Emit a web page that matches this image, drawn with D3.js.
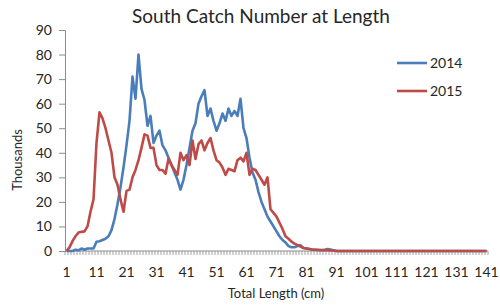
<!DOCTYPE html>
<html>
<head>
<meta charset="utf-8">
<script src="https://cdn.jsdelivr.net/npm/d3@7"></script>
<style>
  body { margin: 0; background: #fff; }
  svg text { font-family: Lato, "Liberation Sans", sans-serif; fill: #262626; }
</style>
</head>
<body>
<div id="chart"></div>
<script>
// total length classes (cm), 1..141
const lengths = d3.range(1, 142);
const xTickLabels = [1, 11, 21, 31, 41, 51, 61, 71, 81, 91, 101, 111, 121, 131, 141];
const yTicks = [0, 10, 20, 30, 40, 50, 60, 70, 80, 90];

// catch in thousands
const catch2014 = [
  0, 0, 0, 0.5, 0.3, 1, 0.5, 1, 1, 1,
  3.8, 4, 4.5, 5, 6, 8.5, 13, 19, 26, 34,
  43, 53, 71, 62, 80, 66, 61.5, 51, 55, 44,
  47, 49, 43, 41, 38, 35, 32, 29, 25, 29,
  35, 42, 49, 52, 60, 63, 65.5, 55, 58, 53,
  49, 52, 56, 53, 58, 55, 57, 55, 62, 50,
  46, 38, 32, 29, 24, 20, 17, 14, 12, 10,
  8, 6, 4.5, 3.5, 2, 1.5, 1.5, 2, 2.4, 1.2,
  1, 0.8, 0.5, 0.5, 0.3, 0.3, 0.5, 0.8, 0.6, 0.3,
  0, 0, 0, 0, 0, 0, 0, 0, 0, 0,
  0, 0, 0, 0, 0, 0, 0, 0, 0, 0,
  0, 0, 0, 0, 0, 0, 0, 0, 0, 0,
  0, 0, 0, 0, 0, 0, 0, 0, 0, 0,
  0, 0, 0, 0, 0, 0, 0, 0, 0, 0,
  0
];
const catch2015 = [
  0, 1.5, 4, 6, 7.5, 7.8, 8, 10, 16, 21,
  44, 56.5, 54, 50, 45, 40, 30, 27, 21, 16,
  24.5, 25, 30, 33, 37, 42, 47.5, 47, 42, 42,
  35, 33, 33, 31.5, 37.5, 35, 33, 31, 40, 37,
  39, 35, 45, 37.5, 43.5, 45, 41, 44, 46, 41,
  37, 36, 34, 31, 33.5, 33, 32.5, 37, 38, 36.5,
  40, 31, 33.5, 33, 31, 29, 27, 30, 17, 15.5,
  14, 11.5, 9, 6, 5, 3.8, 3, 2.4, 1.8, 1.2,
  1, 0.8, 0.6, 0.5, 0.5, 0.4, 0.3, 0.3, 0.2, 0.2,
  0, 0, 0, 0, 0, 0, 0, 0, 0, 0,
  0, 0, 0, 0, 0, 0, 0, 0, 0, 0,
  0, 0, 0, 0, 0, 0, 0, 0, 0, 0,
  0, 0, 0, 0, 0, 0, 0, 0, 0, 0,
  0, 0, 0, 0, 0, 0, 0, 0, 0, 0,
  0
];

const seriesNames = ["2014", "2015"];
const seriesColors = ["#4a7ebb", "#be4b48"];

const W = 500, H = 307;
const plot = {left: 65, right: 488, top: 30, bottom: 251};

const svg = d3.select("#chart").append("svg")
  .attr("width", W)
  .attr("height", H);

const x = d3.scaleBand()
  .domain(lengths)
  .range([plot.left, plot.right])
  .padding(0);

const y = d3.scaleLinear()
  .domain([0, 90])
  .range([plot.bottom, plot.top]);

// title
svg.append("text")
  .attr("x", 261)
  .attr("y", 23)
  .attr("text-anchor", "middle")
  .style("font-size", "19px")
  .text("South Catch Number at Length");

// y axis
const yAxis = svg.append("g")
  .attr("transform", `translate(${plot.left},0)`)
  .call(d3.axisLeft(y).tickValues(yTicks).tickSize(6).tickPadding(7));
yAxis.select(".domain").attr("stroke", "#8c8c8c");
yAxis.selectAll(".tick line").attr("stroke", "#8c8c8c");
yAxis.selectAll(".tick text").style("font-size", "14px").attr("fill", "#262626");

// x axis: labels every 10 cm, small tick at every class boundary
const xAxis = svg.append("g")
  .attr("transform", `translate(0,${plot.bottom})`)
  .call(d3.axisBottom(x).tickValues(xTickLabels).tickSize(0).tickPadding(16));
xAxis.select(".domain").remove();
xAxis.selectAll(".tick text").style("font-size", "14px").attr("fill", "#262626");

const bounds = lengths.map(d => x(d)).concat([x(lengths[lengths.length - 1]) + x.bandwidth()]);
svg.append("g")
  .selectAll("line")
  .data(bounds)
  .join("line")
  .attr("x1", d => d).attr("x2", d => d)
  .attr("y1", plot.bottom).attr("y2", plot.bottom + 4)
  .attr("stroke", "#8c8c8c")
  .attr("stroke-width", 0.8);
svg.append("line")
  .attr("x1", plot.left).attr("x2", plot.right)
  .attr("y1", plot.bottom).attr("y2", plot.bottom)
  .attr("stroke", "#8c8c8c");

// axis titles
svg.append("text")
  .attr("transform", "translate(22,160) rotate(-90)")
  .attr("text-anchor", "middle")
  .style("font-size", "13px")
  .text("Thousands");

svg.append("text")
  .attr("x", 276)
  .attr("y", 298)
  .attr("text-anchor", "middle")
  .style("font-size", "13px")
  .text("Total Length (cm)");

// lines
const line = d3.line()
  .x((d, i) => x(lengths[i]) + x.bandwidth() / 2)
  .y(d => y(d));

[catch2014, catch2015].forEach((vals, k) => {
  svg.append("path")
    .datum(vals)
    .attr("fill", "none")
    .attr("stroke", seriesColors[k])
    .attr("stroke-width", 2.6)
    .attr("stroke-linejoin", "round")
    .attr("d", line);
});

// legend
const legend = svg.append("g").attr("transform", "translate(397,63)");
seriesNames.forEach((name, k) => {
  const g = legend.append("g").attr("transform", `translate(0,${k * 28})`);
  g.append("line")
    .attr("x1", 0).attr("x2", 30)
    .attr("stroke", seriesColors[k])
    .attr("stroke-width", 2.6);
  g.append("text")
    .attr("x", 33)
    .attr("y", 5)
    .style("font-size", "14px")
    .text(name);
});
</script>
</body>
</html>
